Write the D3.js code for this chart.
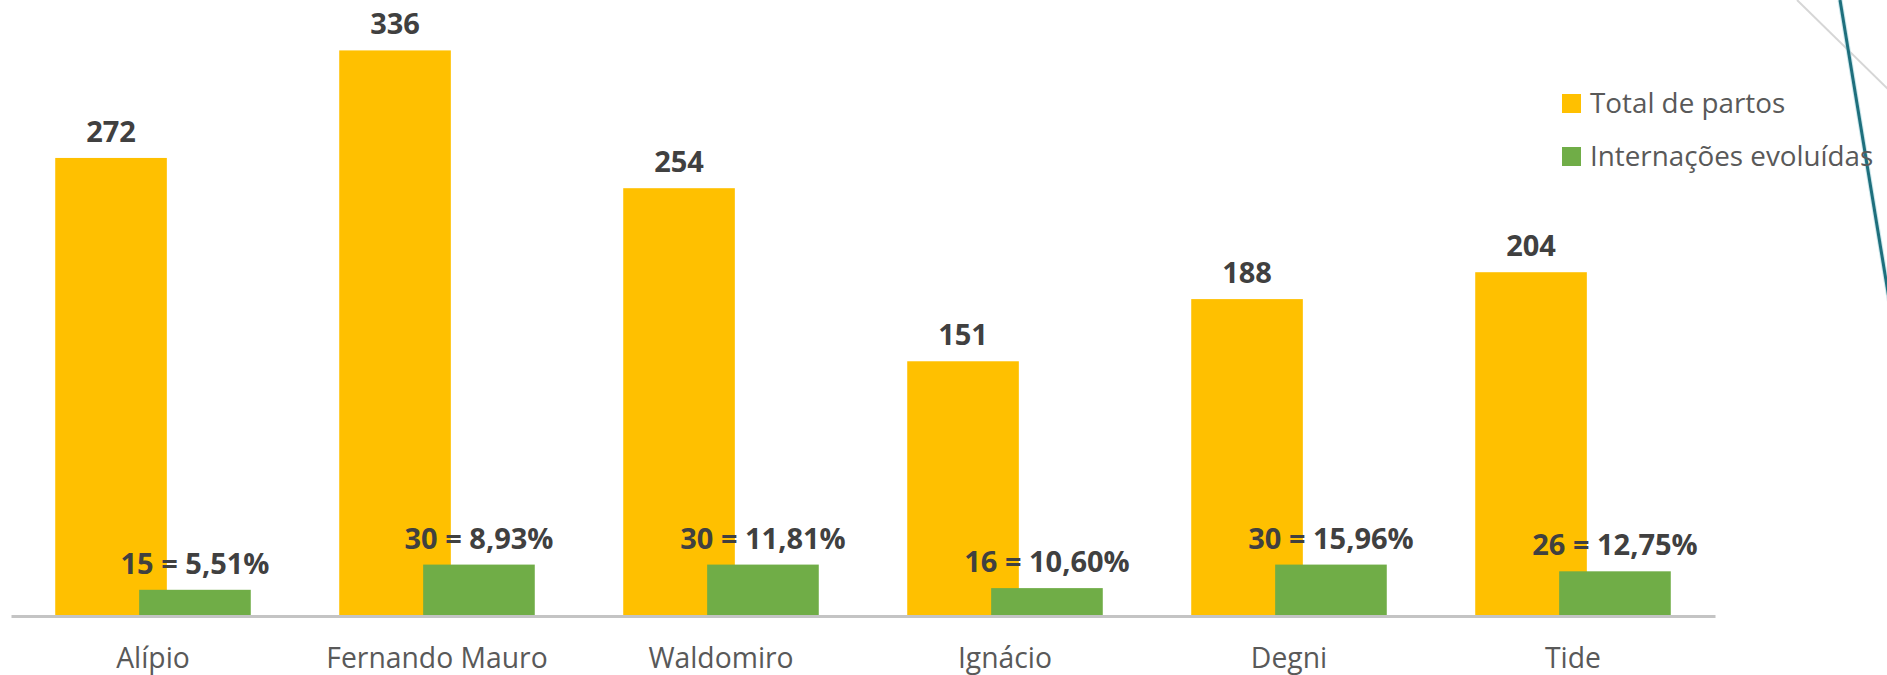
<!DOCTYPE html>
<html lang="pt-BR">
<head>
<meta charset="utf-8">
<title>Total de partos e internações evoluídas</title>
<script src="https://cdn.jsdelivr.net/npm/d3@7"></script>
<style>
  html, body { margin: 0; padding: 0; background: #ffffff; }
  svg { display: block; }
  .axis text { font-family: "Open Sans", "Noto Sans", sans-serif; }
</style>
</head>
<body>
<svg id="chart" width="1887" height="675"></svg>
<script>
// Maternidades / hospitais
const categorias = ["Alípio", "Fernando Mauro", "Waldomiro", "Ignácio", "Degni", "Tide"];
// Total de partos por unidade
const totalPartos = [272, 336, 254, 151, 188, 204];
// Internações evoluídas por unidade
const internacoes = [15, 30, 30, 16, 30, 26];
// Percentual de internações sobre o total de partos
const percentuais = [5.51, 8.93, 11.81, 10.60, 15.96, 12.75];

const series = [
  { nome: "Total de partos", cor: "#FFC000", valores: totalPartos },
  { nome: "Internações evoluídas", cor: "#70AD47", valores: internacoes }
];

const W = 1887, H = 675;
const baseY = 615;

const svg = d3.select("#chart");

// decorative strokes in the upper-right corner
svg.append("line")
  .attr("x1", 1797).attr("y1", 0).attr("x2", 1892).attr("y2", 93)
  .attr("stroke", "#d6d6d6").attr("stroke-width", 2);
svg.append("line")
  .attr("x1", 1840).attr("y1", 0).attr("x2", 1893).attr("y2", 323)
  .attr("stroke", "#9fd3dc").attr("stroke-width", 5).attr("opacity", 0.5);
svg.append("line")
  .attr("x1", 1840).attr("y1", 0).attr("x2", 1893).attr("y2", 323)
  .attr("stroke", "#1e6f7d").attr("stroke-width", 3);

const x = d3.scaleBand().domain(categorias).range([11, 1715]).paddingInner(0).paddingOuter(0);
const y = d3.scaleLinear().domain([0, 366]).range([baseY, 0]);

const bw = x.bandwidth();
const barW = bw * 0.393;
const passo = barW * 0.752;          // overlapping series
const grupoW = passo + barW;
const inicio = c => x(c) + (bw - grupoW) / 2;

const fmtPct = v => d3.format(".2f")(v).replace(".", ",") + "%";

const rotulos = [
  (i) => String(totalPartos[i]),
  (i) => `${internacoes[i]} = ${fmtPct(percentuais[i])}`
];

series.forEach((s, si) => {
  svg.append("g")
    .selectAll("rect")
    .data(s.valores)
    .join("rect")
    .attr("x", (d, i) => inicio(categorias[i]) + si * passo)
    .attr("y", d => y(d))
    .attr("width", barW)
    .attr("height", d => baseY - y(d))
    .attr("fill", s.cor);
});

// value labels above each bar
series.forEach((s, si) => {
  svg.append("g")
    .selectAll("text")
    .data(s.valores)
    .join("text")
    .attr("x", (d, i) => inicio(categorias[i]) + si * passo + barW / 2)
    .attr("y", d => y(d) - 16)
    .attr("text-anchor", "middle")
    .attr("font-family", "'Open Sans', 'Noto Sans', sans-serif")
    .attr("font-weight", 700)
    .attr("font-size", 29)
    .attr("fill", "#404040")
    .text((d, i) => rotulos[si](i));
});

// category axis
const eixo = svg.append("g")
  .attr("class", "axis")
  .attr("transform", `translate(0,${baseY + 1})`)
  .call(d3.axisBottom(x).tickSize(0).tickSizeOuter(0));
eixo.select(".domain").attr("stroke", "#c4c4c4").attr("stroke-width", 3);
eixo.selectAll("text")
  .attr("y", 52).attr("dy", 0)
  .attr("font-size", 28.3)
  .attr("fill", "#595959");

// legend
const leg = svg.append("g");
series.forEach((s, i) => {
  leg.append("rect")
    .attr("x", 1562).attr("y", 94 + i * 53)
    .attr("width", 19).attr("height", 19)
    .attr("fill", s.cor);
  leg.append("text")
    .attr("x", 1590).attr("y", 113 + i * 53)
    .attr("font-family", "'Open Sans', 'Noto Sans', sans-serif")
    .attr("font-size", 27.8)
    .attr("fill", "#595959")
    .text(s.nome);
});
</script>
</body>
</html>
